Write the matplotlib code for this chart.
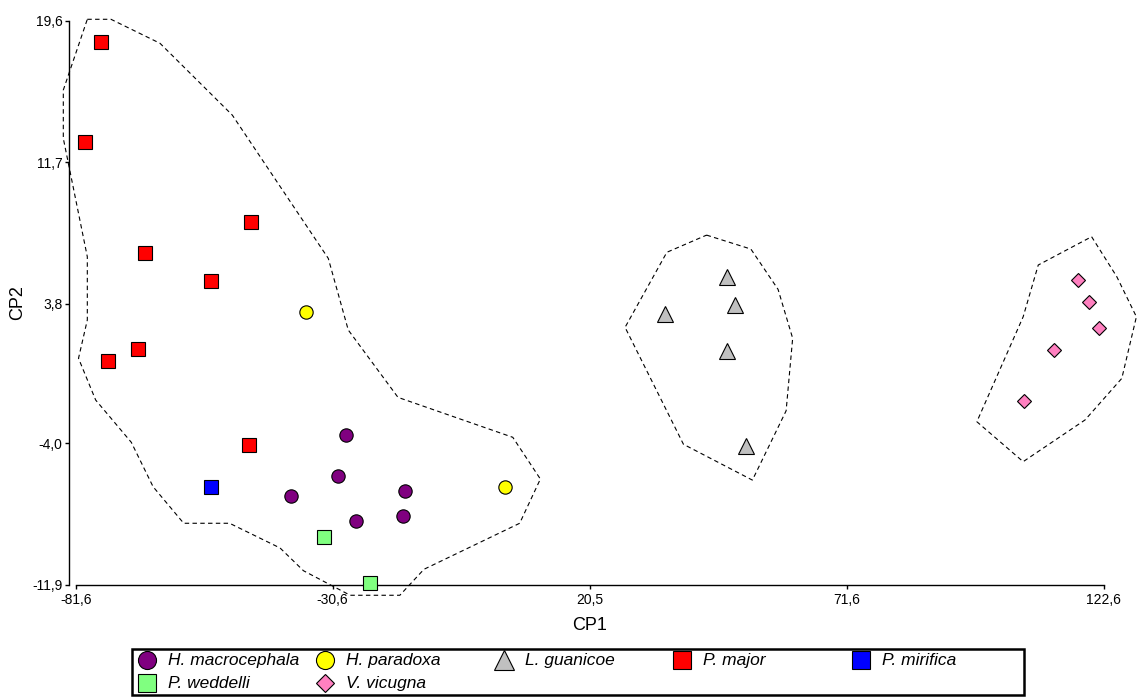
import matplotlib
matplotlib.use("Agg")
import matplotlib.pyplot as plt
from matplotlib.patches import Polygon, Rectangle
from matplotlib.ticker import FixedLocator, FixedFormatter

plt.rcParams['font.family'] = ['Liberation Sans', 'DejaVu Sans']

# ---------------- data ----------------
species = ["H. macrocephala", "H. paradoxa", "L. guanicoe", "P. major",
           "P. mirifica", "P. weddelli", "V. vicugna"]
colors = ["#800080", "#FFFF00", "#C0C0C0", "#FF0000", "#0000FF", "#80FF80", "#FF80C0"]
markers = ["o", "o", "^", "s", "s", "s", "D"]

hmac_x = [-27.9, -29.5, -38.9, -16.2, -25.9, -16.7]
hmac_y = [-3.55, -5.82, -6.94, -6.64, -8.32, -8.07]
hpar_x = [-35.8, 3.7]
hpar_y = [3.34, -6.45]
lgua_x = [47.7, 49.3, 35.4, 47.7, 51.5]
lgua_y = [5.31, 3.73, 3.24, 1.14, -4.13]
pmaj_x = [-76.6, -79.9, -46.8, -67.8, -54.8, -69.3, -75.3, -47.3]
pmaj_y = [18.43, 12.81, 8.36, 6.61, 5.07, 1.27, 0.60, -4.11]
pmir_x = [-54.8]
pmir_y = [-6.45]
pwed_x = [-32.3, -23.1]
pwed_y = [-9.24, -11.78]
vvic_x = [117.4, 119.6, 121.6, 112.7, 106.8]
vvic_y = [5.11, 3.88, 2.44, 1.21, -1.65]

hull1_x = [-79.35, -74.65, -64.91, -50.54, -31.47, -27.5, -17.62, 5.19, 10.67, 6.56,
           -12.46, -17.25, -27.12, -36.4, -41.05, -51.08, -60.2, -66.28, -70.61,
           -77.69, -81.1, -79.35, -79.35, -84.12, -84.12]
hull1_y = [19.68, 19.68, 18.34, 14.33, 6.33, 2.33, -1.43, -3.66, -5.99, -8.46,
           -11.03, -12.48, -12.48, -11.11, -9.84, -8.46, -8.46, -6.42, -3.94,
           -1.58, 0.75, 2.89, 6.42, 13.03, 15.73]
hull2_x = [43.7, 52.5, 57.9, 60.8, 59.5, 52.8, 39.1, 27.5, 35.8]
hull2_y = [7.63, 6.85, 4.60, 1.87, -2.18, -6.05, -4.05, 2.48, 6.67]
hull3_x = [120.2, 125.2, 129.1, 126.2, 118.9, 106.6, 97.4, 106.6, 109.6]
hull3_y = [7.54, 5.31, 3.07, -0.37, -2.69, -5.02, -2.79, 3.07, 5.96]

xticks = [-81.6, -30.6, 20.5, 71.6, 122.6]
xtick_labels = ["-81,6", "-30,6", "20,5", "71,6", "122,6"]
yticks = [-11.9, -4.0, 3.8, 11.7, 19.6]
ytick_labels = ["-11,9", "-4,0", "3,8", "11,7", "19,6"]

series_x = [hmac_x, hpar_x, lgua_x, pmaj_x, pmir_x, pwed_x, vvic_x]
series_y = [hmac_y, hpar_y, lgua_y, pmaj_y, pmir_y, pwed_y, vvic_y]

# ---------------- figure ----------------
fig = plt.figure(figsize=(11.37, 6.98), dpi=100)
ax = fig.add_axes([0.05400, 0.13897, 0.94503, 0.8493])
ax.set_xlim(-84.5, 129.0)
ax.set_ylim(-12.8, 20.3)

for hx, hy in [(hull1_x, hull1_y), (hull2_x, hull2_y), (hull3_x, hull3_y)]:
    poly = Polygon(list(zip(hx, hy)), closed=True, fill=False, edgecolor="black",
                   linewidth=0.8, linestyle=(0, (4, 3)), clip_on=False, zorder=1)
    ax.add_patch(poly)

msizes = {"o": 9.6, "s": 9.8, "^": 11.0, "D": 7.6}
for sx, sy, c, m in zip(series_x, series_y, colors, markers):
    ax.plot(sx, sy, linestyle="none", marker=m, markersize=msizes[m],
            markerfacecolor=c, markeredgecolor="black", markeredgewidth=0.8,
            clip_on=False, zorder=4)

for side in ["top", "right"]:
    ax.spines[side].set_visible(False)
ax.spines["left"].set_position(("data", -83.0))
ax.spines["bottom"].set_position(("data", -11.9))
ax.spines["left"].set_bounds(-11.9, 19.6)
ax.spines["bottom"].set_bounds(-81.6, 122.6)
for side in ["left", "bottom"]:
    ax.spines[side].set_linewidth(1.0)
    ax.spines[side].set_zorder(2)

ax.xaxis.set_major_locator(FixedLocator(xticks))
ax.xaxis.set_major_formatter(FixedFormatter(xtick_labels))
ax.yaxis.set_major_locator(FixedLocator(yticks))
ax.yaxis.set_major_formatter(FixedFormatter(ytick_labels))
ax.tick_params(axis="both", direction="out", length=3, width=1.0,
               labelsize=10, colors="black")
ax.tick_params(axis="x", pad=3)
ax.tick_params(axis="y", pad=1.5)

ax.set_xlabel("CP1", fontsize=13)
ax.set_ylabel("CP2", fontsize=13)
ax.xaxis.set_label_coords(0.4915, -0.0405)
ax.yaxis.set_label_coords(-0.0404, 0.503)
ax.xaxis.label.set_va("center")
ax.yaxis.label.set_va("center")

# ---------------- legend ----------------
lax = fig.add_axes([132 / 1137, 1 - 695 / 698, (1024 - 132) / 1137, (695 - 649) / 698])
lax.set_xlim(0, 1)
lax.set_ylim(0, 1)
lax.axis("off")
lax.add_patch(Rectangle((0, 0), 1, 1, transform=lax.transAxes, fill=False,
                        edgecolor="black", linewidth=1.8, clip_on=False))
leg_sizes = {"o": 13.0, "s": 13.0, "^": 13.8, "D": 9.4}
for i, (name, c, m) in enumerate(zip(species, colors, markers)):
    row = i // 5
    col = i % 5
    xm = 0.0168 + 0.2 * col
    ym = 0.76 if row == 0 else 0.26
    lax.plot([xm], [ym], linestyle="none", marker=m, markersize=leg_sizes[m],
             markerfacecolor=c, markeredgecolor="black", markeredgewidth=0.8,
             clip_on=False)
    lax.text(xm + 0.0235, ym, name, fontsize=12.5, style="italic",
             va="center", ha="left")

fig.savefig("out.png", dpi=100)
